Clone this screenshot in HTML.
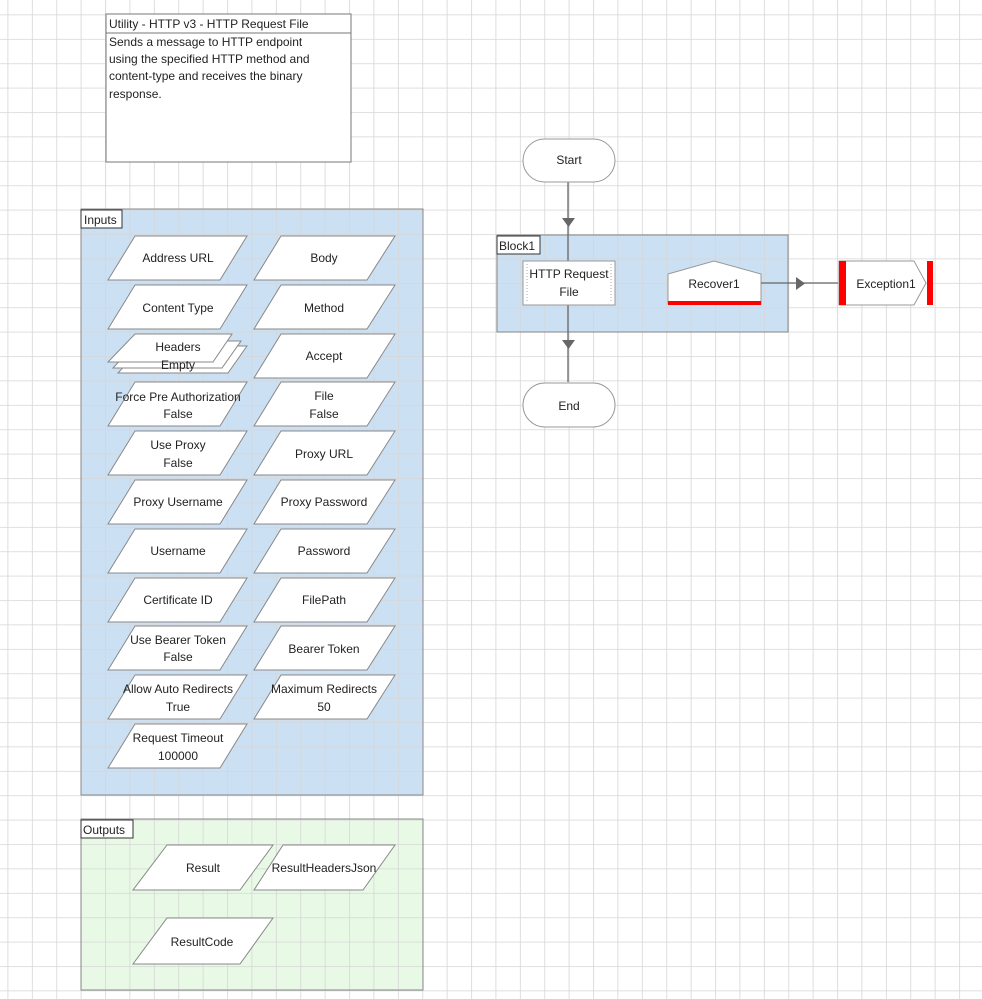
<!DOCTYPE html>
<html><head><meta charset="utf-8"><style>
html,body{margin:0;padding:0;background:#fff;}
svg{display:block;font-family:"Liberation Sans",sans-serif;font-size:12px;}
</style></head><body>
<svg width="982" height="999" viewBox="0 0 982 999" xmlns="http://www.w3.org/2000/svg">
<defs>
<pattern id="g" x="7.5" y="14.5" width="24.4" height="24.4" patternUnits="userSpaceOnUse">
<path d="M0 0H24.4M0 0V24.4" stroke="#d6d6d6" stroke-width="1.6" fill="none"/>
</pattern>
</defs>
<rect width="982" height="999" fill="#fff"/>
<rect x="81" y="209" width="342" height="586" fill="#cce0f4"/>
<rect x="81" y="819" width="342" height="171" fill="#e8fae6"/>
<rect x="497" y="235" width="291" height="97" fill="#cce0f4"/>
<rect width="982" height="999" fill="url(#g)"/>
<rect x="81" y="209" width="342" height="586" fill="none" stroke="#888" stroke-width="1"/>
<rect x="81" y="819" width="342" height="171" fill="none" stroke="#888" stroke-width="1"/>
<rect x="497" y="235" width="291" height="97" fill="none" stroke="#888" stroke-width="1"/>

<!-- title box -->
<rect x="106" y="14" width="245" height="148" fill="#fff" stroke="#777"/>
<line x1="106" y1="33" x2="351" y2="33" stroke="#777"/>
<text x="109" y="28" fill="#222">Utility - HTTP v3 - HTTP Request File</text>
<text x="109" y="46" fill="#222">Sends a message to HTTP endpoint</text>
<text x="109" y="63" fill="#222">using the specified HTTP method and</text>
<text x="109" y="80" fill="#222">content-type and receives the binary</text>
<text x="109" y="98" fill="#222">response.</text>

<!-- labels -->
<rect x="81" y="210" width="41" height="18" fill="#fff" stroke="#333"/>
<text x="84" y="224" fill="#222">Inputs</text>
<rect x="81" y="820" width="52" height="18" fill="#fff" stroke="#333"/>
<text x="83" y="834" fill="#222">Outputs</text>
<rect x="497" y="236" width="43" height="18" fill="#fff" stroke="#333"/>
<text x="499" y="250" fill="#222">Block1</text>

<g fill="#fff" stroke="#888" stroke-width="1">
<!-- left column -->
<path d="M135 236H247L220 280H108Z"/>
<path d="M135 285H247L220 329H108Z"/>
<path d="M143 346H247L228 373H118Z"/>
<path d="M138 341H241L222 368H113Z"/>
<path d="M135 334H232L213 362H108Z"/>
<path d="M135 382H247L220 426H108Z"/>
<path d="M135 431H247L220 475H108Z"/>
<path d="M135 480H247L220 524H108Z"/>
<path d="M135 529H247L220 573H108Z"/>
<path d="M135 578H247L220 622H108Z"/>
<path d="M135 626H247L220 670H108Z"/>
<path d="M135 675H247L220 719H108Z"/>
<path d="M135 724H247L220 768H108Z"/>
<!-- right column -->
<path d="M281 236H395L367 280H254Z"/>
<path d="M281 285H395L367 329H254Z"/>
<path d="M281 334H395L367 378H254Z"/>
<path d="M281 382H395L367 426H254Z"/>
<path d="M281 431H395L367 475H254Z"/>
<path d="M281 480H395L367 524H254Z"/>
<path d="M281 529H395L367 573H254Z"/>
<path d="M281 578H395L367 622H254Z"/>
<path d="M281 626H395L367 670H254Z"/>
<path d="M281 675H395L367 719H254Z"/>
<!-- outputs -->
<path d="M167 845H273L240 890H133Z"/>
<path d="M283 845H395L363 890H254Z"/>
<path d="M167 918H273L240 964H133Z"/>
</g>

<g fill="#222" text-anchor="middle">
<text x="178" y="262">Address URL</text>
<text x="178" y="312">Content Type</text>
<text x="178" y="351">Headers</text>
<text x="178" y="369">Empty</text>
<text x="178" y="401">Force Pre Authorization</text>
<text x="178" y="418">False</text>
<text x="178" y="449">Use Proxy</text>
<text x="178" y="467">False</text>
<text x="178" y="506">Proxy Username</text>
<text x="178" y="555">Username</text>
<text x="178" y="604">Certificate ID</text>
<text x="178" y="644">Use Bearer Token</text>
<text x="178" y="661">False</text>
<text x="178" y="693">Allow Auto Redirects</text>
<text x="178" y="711">True</text>
<text x="178" y="742">Request Timeout</text>
<text x="178" y="760">100000</text>

<text x="324" y="262">Body</text>
<text x="324" y="312">Method</text>
<text x="324" y="360">Accept</text>
<text x="324" y="400">File</text>
<text x="324" y="418">False</text>
<text x="324" y="458">Proxy URL</text>
<text x="324" y="506">Proxy Password</text>
<text x="324" y="555">Password</text>
<text x="324" y="604">FilePath</text>
<text x="324" y="653">Bearer Token</text>
<text x="324" y="693">Maximum Redirects</text>
<text x="324" y="711">50</text>

<text x="203" y="872">Result</text>
<text x="324" y="872">ResultHeadersJson</text>
<text x="202" y="946">ResultCode</text>
</g>

<!-- flow -->
<line x1="568" y1="182" x2="568" y2="382" stroke="#666" stroke-width="1.3"/>
<path d="M562 218H575L568.5 227Z" fill="#666"/>
<path d="M562 340H575L568.5 349Z" fill="#666"/>
<rect x="523" y="139" width="92" height="43" rx="21.5" fill="#fff" stroke="#999"/>
<text x="569" y="164" text-anchor="middle" fill="#222">Start</text>
<rect x="523" y="383" width="92" height="44" rx="22" fill="#fff" stroke="#999"/>
<text x="569" y="410" text-anchor="middle" fill="#222">End</text>

<rect x="523" y="261" width="92" height="44" fill="#fff" stroke="#999"/>
<line x1="527" y1="264" x2="527" y2="302" stroke="#aaa" stroke-dasharray="1,2"/>
<line x1="611" y1="264" x2="611" y2="302" stroke="#aaa" stroke-dasharray="1,2"/>
<text x="569" y="278" text-anchor="middle" fill="#222">HTTP Request</text>
<text x="569" y="296" text-anchor="middle" fill="#222">File</text>

<path d="M668 274L714 261L761 274V304H668Z" fill="#fff" stroke="#999"/>
<rect x="668" y="301" width="93" height="4" fill="#f00"/>
<text x="714" y="288" text-anchor="middle" fill="#222">Recover1</text>

<line x1="761" y1="283" x2="838" y2="283" stroke="#666" stroke-width="1.3"/>
<path d="M796 277V290L805 283.5Z" fill="#666"/>

<path d="M839 261H914L926 283L914 305H839Z" fill="#fff" stroke="#999"/>
<rect x="839" y="261" width="7" height="44" fill="#f00"/>
<rect x="927" y="261" width="6" height="44" fill="#f00"/>
<text x="886" y="288" text-anchor="middle" fill="#222">Exception1</text>
</svg>
</body></html>
